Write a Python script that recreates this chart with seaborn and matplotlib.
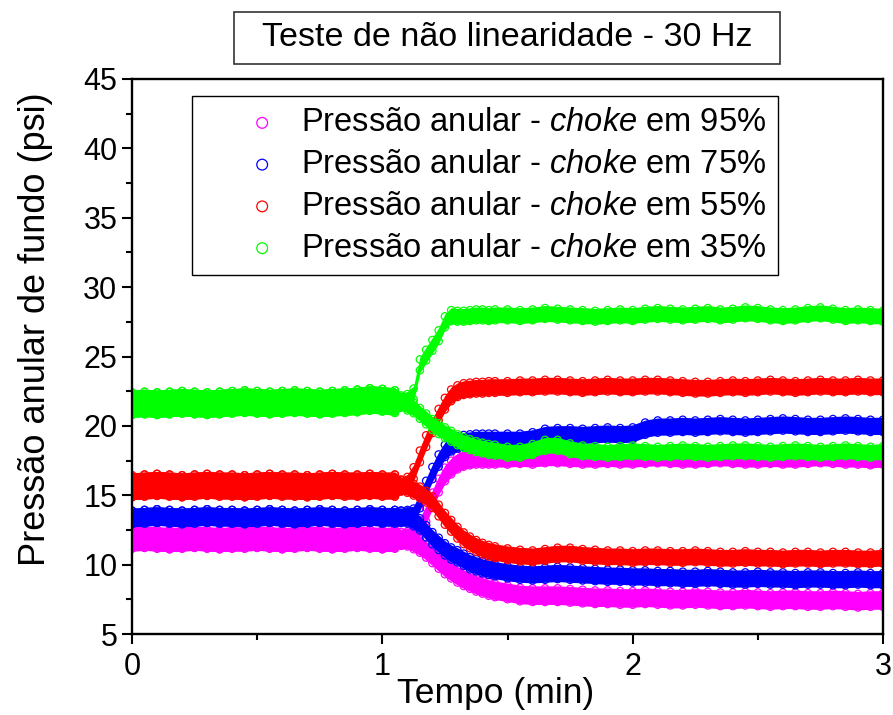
import matplotlib
matplotlib.use("Agg")
import matplotlib.pyplot as plt
import numpy as np
import seaborn as sns
from matplotlib.ticker import MultipleLocator

# tempo (min): trecho antes da mudanca (comum aos dois ramos) e depois
tempo_pre = [0.00, 0.05, 0.10, 0.15, 0.20, 0.25, 0.30, 0.35, 0.40, 0.45, 0.50,
             0.55, 0.60, 0.65, 0.70, 0.75, 0.80, 0.85, 0.90, 0.95, 1.00, 1.05]
tempo_pos = [1.075, 1.10, 1.125, 1.15, 1.175, 1.20, 1.225, 1.25, 1.275, 1.30,
             1.325, 1.35, 1.375, 1.40, 1.425, 1.45,
             1.50, 1.55, 1.60, 1.65, 1.70, 1.75, 1.80, 1.85, 1.90, 1.95, 2.00,
             2.05, 2.10, 2.15, 2.20, 2.25, 2.30, 2.35, 2.40, 2.45, 2.50, 2.55,
             2.60, 2.65, 2.70, 2.75, 2.80, 2.85, 2.90, 2.95, 3.00]

rotulos = ["Pressão anular - $\\it{choke}$ em 95%",
           "Pressão anular - $\\it{choke}$ em 75%",
           "Pressão anular - $\\it{choke}$ em 55%",
           "Pressão anular - $\\it{choke}$ em 35%"]
cores = ["#ff00ff", "#0000ff", "#ff0000", "#00ff00"]

# pressao anular de fundo (psi) antes da mudanca
pre_95 = [11.85, 11.9, 11.85, 11.8, 11.85, 11.9, 11.85, 11.8, 11.85, 11.85, 11.9,
          11.85, 11.8, 11.85, 11.9, 11.85, 11.8, 11.85, 11.9, 11.85, 11.8, 11.85]
pre_75 = [13.4, 13.45, 13.5, 13.45, 13.4, 13.45, 13.5, 13.45, 13.45, 13.4, 13.45,
          13.5, 13.45, 13.4, 13.45, 13.5, 13.45, 13.4, 13.45, 13.5, 13.45, 13.45]
pre_55 = [15.65, 15.7, 15.75, 15.7, 15.65, 15.7, 15.75, 15.7, 15.7, 15.65, 15.7,
          15.75, 15.7, 15.7, 15.65, 15.7, 15.75, 15.7, 15.7, 15.75, 15.7, 15.7]
pre_35 = [21.6, 21.65, 21.6, 21.65, 21.7, 21.65, 21.6, 21.65, 21.7, 21.75, 21.7,
          21.65, 21.7, 21.75, 21.7, 21.65, 21.7, 21.75, 21.8, 21.9, 21.85, 21.75]

# ramo que sobe e ramo que desce, depois da mudanca
sobe_95 = [11.85, 11.9, 12.1, 12.7, 13.6, 14.7, 15.7, 16.5, 17.0, 17.35, 17.55, 17.65,
           17.7, 17.7, 17.7, 17.7,
           17.7, 17.75, 17.7, 17.8, 17.8, 17.75, 17.7, 17.7, 17.75, 17.7, 17.7,
           17.75, 17.8, 17.75, 17.7, 17.7, 17.75, 17.8, 17.75, 17.7, 17.7, 17.75,
           17.7, 17.7, 17.75, 17.8, 17.75, 17.7, 17.7, 17.65, 17.7]
desce_95 = [11.85, 11.8, 11.6, 11.35, 11.0, 10.6, 10.2, 9.8, 9.5, 9.2, 8.95, 8.75,
            8.55, 8.4, 8.25, 8.15,
            8.0, 7.85, 7.8, 7.8, 7.8, 7.75, 7.7, 7.65, 7.65, 7.6, 7.6,
            7.65, 7.6, 7.55, 7.55, 7.6, 7.55, 7.5, 7.5, 7.55, 7.5, 7.45,
            7.5, 7.5, 7.45, 7.45, 7.5, 7.45, 7.4, 7.45, 7.45]
sobe_75 = [13.45, 13.5, 13.6, 14.5, 15.6, 16.6, 17.5, 18.2, 18.6, 18.8, 18.9, 18.95,
           19.0, 19.0, 19.0, 19.0,
           19.0, 19.0, 19.1, 19.35, 19.4, 19.4, 19.35, 19.4, 19.45, 19.4, 19.45,
           19.8, 19.95, 19.95, 20.0, 19.95, 20.0, 20.05, 20.0, 19.95, 20.0, 20.05,
           20.1, 20.05, 20.0, 20.0, 20.05, 20.1, 20.05, 20.0, 20.0]
desce_75 = [13.45, 13.4, 13.2, 12.9, 12.4, 11.9, 11.5, 11.1, 10.8, 10.6, 10.35, 10.1,
            9.95, 9.8, 9.7, 9.6,
            9.45, 9.35, 9.3, 9.35, 9.4, 9.35, 9.3, 9.25, 9.2, 9.2, 9.15,
            9.15, 9.1, 9.1, 9.05, 9.05, 9.1, 9.05, 9.0, 9.0, 9.05, 9.0,
            9.0, 8.95, 9.0, 9.0, 8.95, 8.95, 9.0, 8.95, 8.95]
sobe_55 = [15.7, 15.9, 16.6, 17.8, 18.9, 19.9, 20.8, 21.6, 22.2, 22.5, 22.65, 22.7,
           22.75, 22.75, 22.8, 22.8,
           22.8, 22.85, 22.85, 22.9, 22.9, 22.85, 22.8, 22.85, 22.9, 22.85, 22.85,
           22.9, 22.9, 22.85, 22.8, 22.75, 22.75, 22.8, 22.85, 22.8, 22.85, 22.9,
           22.85, 22.8, 22.85, 22.9, 22.85, 22.85, 22.9, 22.85, 22.85]
desce_55 = [15.7, 15.6, 15.4, 15.2, 14.9, 14.5, 13.9, 13.3, 12.8, 12.3, 11.9, 11.6,
            11.35, 11.15, 11.0, 10.9,
            10.75, 10.65, 10.6, 10.7, 10.8, 10.8, 10.7, 10.65, 10.6, 10.6, 10.55,
            10.6, 10.6, 10.55, 10.55, 10.6, 10.55, 10.5, 10.5, 10.55, 10.5, 10.5,
            10.45, 10.5, 10.5, 10.45, 10.5, 10.5, 10.45, 10.45, 10.5]
sobe_35 = [21.8, 21.9, 22.3, 24.4, 25.1, 25.8, 26.5, 27.5, 27.95, 27.9, 27.9, 27.95,
           28.0, 28.0, 27.95, 28.0,
           28.0, 27.95, 28.0, 28.1, 28.05, 28.0, 27.95, 27.9, 27.95, 28.0, 27.95,
           28.05, 28.1, 28.05, 28.0, 28.05, 28.1, 28.0, 28.05, 28.15, 28.1, 28.0,
           27.95, 28.0, 28.1, 28.15, 28.05, 27.95, 28.0, 27.95, 27.9]
desce_35 = [21.7, 21.5, 21.3, 20.9, 20.5, 20.1, 19.8, 19.5, 19.25, 19.0, 18.8, 18.65,
            18.5, 18.4, 18.3, 18.25,
            18.1, 18.1, 18.3, 18.6, 18.6, 18.35, 18.2, 18.15, 18.1, 18.15, 18.2,
            18.15, 18.1, 18.15, 18.2, 18.15, 18.1, 18.15, 18.2, 18.2, 18.15, 18.1,
            18.15, 18.2, 18.15, 18.1, 18.15, 18.2, 18.15, 18.1, 18.15]

# meia largura da faixa de pontos (psi), antes e depois da mudanca
faixa_pre = [0.95, 0.75, 1.05, 1.07]
faixa_pos = [0.75, 0.70, 0.68, 0.65]

pres_pre = [pre_95, pre_75, pre_55, pre_35]
ramos = [(sobe_95, desce_95), (sobe_75, desce_75), (sobe_55, desce_55), (sobe_35, desce_35)]

sns.set_style("ticks")
plt.rcParams['font.family'] = ['Liberation Sans', 'DejaVu Sans']
plt.rcParams['mathtext.fontset'] = 'custom'
plt.rcParams['mathtext.rm'] = 'Liberation Sans'
plt.rcParams['mathtext.it'] = 'Liberation Sans:italic'
plt.rcParams['text.color'] = 'black'
plt.rcParams['axes.labelcolor'] = 'black'

fig = plt.figure(figsize=(8.93, 7.15), dpi=100)
ax = fig.add_axes([132 / 893, 1 - 634 / 715, 751 / 893, 555 / 715])

raio = 0.26  # raio do marcador em psi
t = np.array(tempo_pre + tempo_pos)
for i, cor in enumerate(cores):
    meia = np.array([faixa_pre[i]] * len(tempo_pre) + [faixa_pos[i]] * len(tempo_pos))
    for k, ramo in enumerate(ramos[i]):
        v = np.array(pres_pre[i] + ramo)
        ax.fill_between(t, v - meia + 0.08, v + meia - 0.08, color=cor, lw=0)
        for sinal in (1, -1):
            sns.scatterplot(x=t, y=v + sinal * (meia - raio), ax=ax, marker='o', s=28,
                            facecolor='none', edgecolor=cor, linewidth=0.9,
                            legend=False)
    # marcador do legenda
    sns.scatterplot(x=[t[0]], y=[pres_pre[i][0]], ax=ax, marker='o', s=60,
                    facecolor='none', edgecolor=cor, linewidth=0.9,
                    label=rotulos[i], legend=False)

ax.set_xlim(0, 3)
ax.set_ylim(5, 45)
ax.xaxis.set_major_locator(MultipleLocator(1))
ax.xaxis.set_minor_locator(MultipleLocator(0.5))
ax.yaxis.set_major_locator(MultipleLocator(5))
ax.yaxis.set_minor_locator(MultipleLocator(2.5))
ax.tick_params(which='both', direction='out', width=1.5, top=False, right=False,
               labelsize=22, colors='black')
ax.tick_params(which='major', length=7)
ax.tick_params(which='minor', length=4.5)
ax.tick_params(axis='x', which='major', pad=6)
for s in ax.spines.values():
    s.set_linewidth(1.7)
    s.set_color('black')

ax.set_xlabel("Tempo (min)", fontsize=25.5)
ax.set_ylabel("Pressão anular de fundo (psi)", fontsize=26)
ax.xaxis.set_label_coords(0.484, -0.077)
ax.yaxis.set_label_coords(-0.105, 0.55)

ax.legend(loc='upper left', bbox_to_anchor=(192 / 893, 1 - 96 / 715),
          bbox_transform=fig.transFigure, borderaxespad=0, fontsize=23.5,
          frameon=True, fancybox=False, edgecolor='black', framealpha=1,
          handlelength=3.6, handletextpad=-0.6, borderpad=0.35, labelspacing=0.33)

fig.text(507 / 893, 1 - 38 / 715, "Teste de não linearidade - 30 Hz",
         ha='center', va='center', fontsize=24.5)
fig.add_artist(plt.Rectangle((234 / 893, 1 - 64 / 715), 546 / 893, 52 / 715,
                             transform=fig.transFigure, fill=False,
                             ec='#333333', lw=1.2))

fig.savefig("out.png", dpi=100)
